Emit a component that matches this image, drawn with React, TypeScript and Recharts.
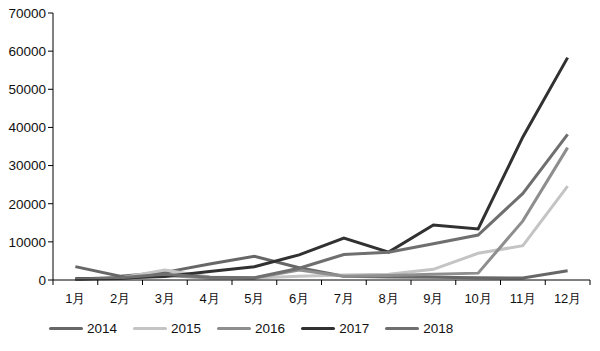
import React from "react"
import { LineChart, Line, XAxis, YAxis, Legend } from "recharts"

const months = ["1月", "2月", "3月", "4月", "5月", "6月", "7月", "8月", "9月", "10月", "11月", "12月"]
const s2014 = [3500, 1000, 2000, 4200, 6200, 3200, 1000, 800, 700, 600, 500, 2400]
const s2015 = [300, 500, 2600, 800, 500, 1000, 1300, 1500, 2800, 7000, 9000, 24600]
const s2016 = [200, 400, 1200, 500, 500, 2600, 1000, 1200, 1500, 1800, 15500, 34700]
const s2017 = [300, 500, 900, 2200, 3500, 6600, 11000, 7300, 14400, 13400, 37500, 58300]
const s2018 = [200, 600, 1500, 700, 600, 3100, 6700, 7300, 9500, 11800, 22700, 38200]
const yTicks = [0, 10000, 20000, 30000, 40000, 50000, 60000, 70000]

const series = [
  { key: "2014", values: s2014, color: "#676767" },
  { key: "2015", values: s2015, color: "#c4c4c4" },
  { key: "2016", values: s2016, color: "#8e8e8e" },
  { key: "2017", values: s2017, color: "#313131" },
  { key: "2018", values: s2018, color: "#6f6f6f" },
]

const data = months.map((m, i) => {
  const row: Record<string, string | number> = { month: m }
  series.forEach((s) => (row[s.key] = s.values[i]))
  return row
})

const font = "'Liberation Sans', Arial, sans-serif"

const MonthTick = (props: any) => {
  const { x, y, payload, index, visibleTicksCount } = props
  const bw = 537 / 12
  const top = y - 8
  return (
    <g>
      <line x1={x - bw / 2} x2={x - bw / 2} y1={top} y2={top + 5} stroke="#000" />
      {index === visibleTicksCount - 1 && (
        <line x1={x + bw / 2} x2={x + bw / 2} y1={top} y2={top + 5} stroke="#000" />
      )}
      <text x={x} y={top + 23} textAnchor="middle" fontSize={13} fontFamily={font} fill="#111">
        {payload.value}
      </text>
    </g>
  )
}

const LegendContent = () => (
  <div style={{ height: 30, display: "flex", alignItems: "center", paddingLeft: 49, fontFamily: font, fontSize: 13.5, color: "#111" }}>
    {series.map((s) => (
      <div key={s.key} style={{ display: "flex", alignItems: "center", marginRight: 16 }}>
        <div style={{ width: 34, height: 3, background: s.color, borderRadius: 2, marginRight: 4 }} />
        <span>{s.key}</span>
      </div>
    ))}
  </div>
)

export default function App() {
  return (
    <div style={{ position: "absolute", left: 0, top: 0, width: 600, height: 351, background: "#fff" }}>
      <LineChart width={600} height={351} data={data} margin={{ top: 13, right: 10, left: 0, bottom: 8 }}>
        <XAxis
          dataKey="month"
          scale="band"
          height={33}
          axisLine={{ stroke: "#000" }}
          tickLine={false}
          tick={<MonthTick />}
          interval={0}
        />
        <YAxis
          width={53}
          domain={[0, 70000]}
          ticks={yTicks}
          interval={0}
          axisLine={{ stroke: "#000" }}
          tickLine={{ stroke: "#000" }}
          tickSize={5}
          tick={{ fontSize: 13.5, fontFamily: font, fill: "#111" }}
        />
        <Legend verticalAlign="bottom" content={<LegendContent />} />
        {series.map((s) => (
          <Line
            key={s.key}
            dataKey={s.key}
            stroke={s.color}
            strokeWidth={3}
            dot={false}
            type="linear"
            isAnimationActive={false}
          />
        ))}
      </LineChart>
    </div>
  )
}
